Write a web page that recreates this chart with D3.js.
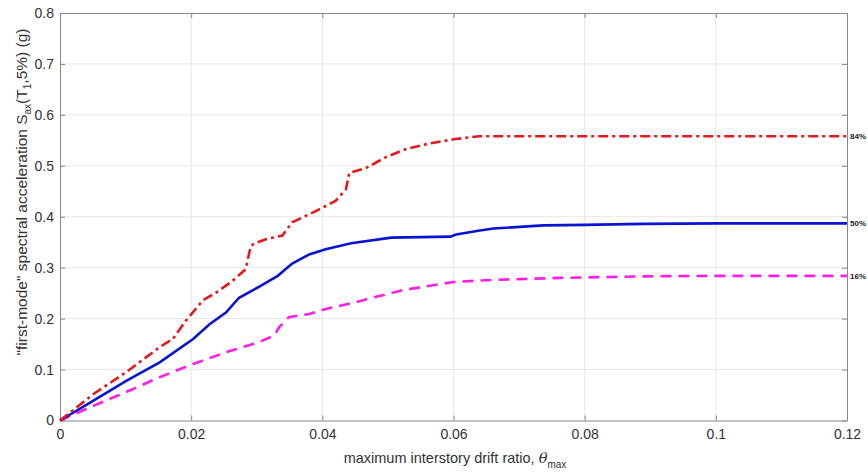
<!DOCTYPE html>
<html><head><meta charset="utf-8">
<script src="https://cdn.jsdelivr.net/npm/d3@7"></script>
<style>body{margin:0;background:#fff}svg{display:block}text{font-family:"Liberation Sans",Arial,sans-serif}</style>
</head><body><svg id="c" width="868" height="476"></svg>
<script>
const xTicks=[0,0.02,0.04,0.06,0.08,0.1,0.12];
const yTicks=[0,0.1,0.2,0.3,0.4,0.5,0.6,0.7,0.8];
const p84=[[0,0],[0.0051,0.052],[0.0101,0.095],[0.0152,0.144],[0.0172,0.160],[0.0192,0.196],[0.0218,0.236],[0.0238,0.251],[0.0263,0.274],[0.0283,0.297],[0.0291,0.343],[0.0299,0.349],[0.0314,0.356],[0.0339,0.363],[0.0354,0.389],[0.0375,0.402],[0.039,0.411],[0.042,0.431],[0.0436,0.454],[0.0441,0.486],[0.0467,0.496],[0.0497,0.517],[0.0528,0.533],[0.0564,0.544],[0.06,0.552],[0.0639,0.558],[0.07,0.558],[0.12,0.558]];
const p50=[[0,0],[0.0051,0.039],[0.0101,0.078],[0.0152,0.114],[0.0203,0.160],[0.0228,0.189],[0.0253,0.212],[0.0273,0.241],[0.0304,0.263],[0.0332,0.284],[0.0354,0.308],[0.038,0.326],[0.0405,0.336],[0.0444,0.348],[0.0505,0.359],[0.0595,0.361],[0.0604,0.365],[0.064,0.373],[0.0661,0.377],[0.0737,0.383],[0.08,0.384],[0.089,0.386],[0.1006,0.387],[0.12,0.387]];
const p16=[[0,0],[0.0051,0.029],[0.0101,0.056],[0.0152,0.085],[0.0203,0.111],[0.0253,0.134],[0.0304,0.154],[0.0327,0.167],[0.0334,0.183],[0.0349,0.203],[0.038,0.209],[0.0405,0.219],[0.045,0.232],[0.047,0.239],[0.0523,0.256],[0.06,0.272],[0.066,0.276],[0.0763,0.280],[0.089,0.283],[0.1006,0.284],[0.12,0.284]];
const seriesNames=["84%","50%","16%"];
const svg=d3.select("#c");
const L=60,R=847,T=13,B=420.5;
const x=d3.scaleLinear().domain([0,0.12]).range([L,R]);
const y=d3.scaleLinear().domain([0,0.8]).range([B,T]);
// grid
svg.append("g").selectAll("line").data(xTicks.slice(1,-1)).join("line")
 .attr("x1",d=>x(d)).attr("x2",d=>x(d)).attr("y1",T).attr("y2",B).attr("stroke","#e6e6e6").attr("stroke-width",1);
svg.append("g").selectAll("line").data(yTicks.slice(1,-1)).join("line")
 .attr("y1",d=>y(d)).attr("y2",d=>y(d)).attr("x1",L).attr("x2",R).attr("stroke","#e6e6e6").attr("stroke-width",1);
// axes
const fmt=d=>d===0?"0":String(+d.toFixed(2));
svg.append("g").attr("transform",`translate(0,${B})`).call(d3.axisBottom(x).tickValues(xTicks).tickFormat(fmt).tickSizeInner(-5).tickSizeOuter(0).tickPadding(9));
svg.append("g").attr("transform",`translate(${L},0)`).call(d3.axisLeft(y).tickValues(yTicks).tickFormat(fmt).tickSizeInner(-5).tickSizeOuter(0).tickPadding(6));
svg.append("g").attr("transform",`translate(0,${T})`).call(d3.axisTop(x).tickValues(xTicks).tickFormat("").tickSizeInner(-5).tickSizeOuter(0));
svg.append("g").attr("transform",`translate(${R},0)`).call(d3.axisRight(y).tickValues(yTicks).tickFormat("").tickSizeInner(-5).tickSizeOuter(0));
svg.selectAll(".domain,.tick line").attr("stroke","#888");
svg.selectAll(".tick text").attr("fill","#333").style("font-size","14px");
// lines
const line=d3.line().x(d=>x(d[0])).y(d=>y(d[1]));
svg.append("path").datum(p16).attr("d",line).attr("fill","none").attr("stroke","#ff1ee8").attr("stroke-width",2.6).attr("stroke-dasharray","11,7");
svg.append("path").datum(p50).attr("d",line).attr("fill","none").attr("stroke","#0a14d0").attr("stroke-width",2.6);
svg.append("path").datum(p84).attr("d",line).attr("fill","none").attr("stroke","#e5191c").attr("stroke-width",2.6).attr("stroke-dasharray","10,4,3,4");
// end labels
const ends=[p84,p50,p16];
svg.append("g").selectAll("text").data(seriesNames).join("text")
 .attr("x",R+3).attr("y",(d,i)=>y(ends[i][ends[i].length-1][1])+3)
 .text(d=>d).style("font-size","8px").style("font-weight","bold").attr("fill","#222");
// axis labels
const xl=svg.append("text").attr("x",455).attr("y",463).attr("text-anchor","middle").attr("fill","#333").style("font-size","14.5px");
xl.append("tspan").text("maximum interstory drift ratio, ");
xl.append("tspan").text("θ").style("font-style","italic").style("font-family","DejaVu Serif, serif");
xl.append("tspan").text("max").attr("dy",5).style("font-size","10px");
const yl=svg.append("text").attr("transform","translate(27,192) rotate(-90)").attr("text-anchor","middle").attr("fill","#333").style("font-size","15.5px");
yl.append("tspan").text("\"first-mode\" spectral acceleration S");
yl.append("tspan").text("ax").attr("dy",4).style("font-size","10px");
yl.append("tspan").text("(T").attr("dy",-4);
yl.append("tspan").text("1").attr("dy",4).style("font-size","10px");
yl.append("tspan").text(",5%) (g)").attr("dy",-4);
</script></body></html>
